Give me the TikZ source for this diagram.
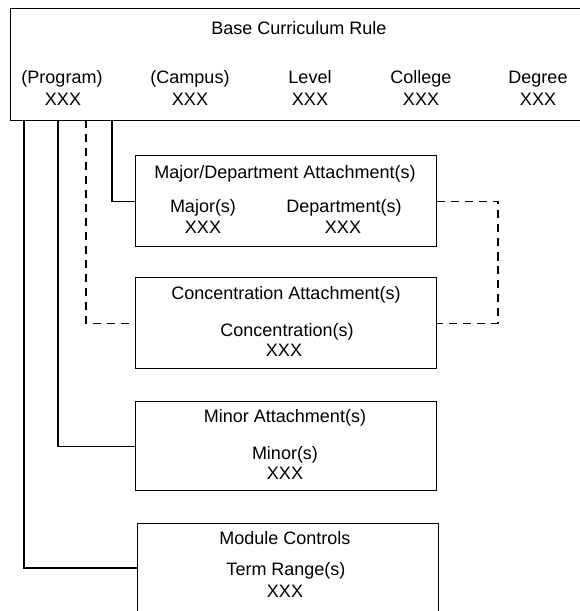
\documentclass[tikz,border=0pt]{standalone}
\usepackage{fontspec}
\setmainfont{Liberation Sans}
\begin{document}
\begin{tikzpicture}[x=1pt,y=-1pt,
  box/.style={draw, line width=1.3pt, inner sep=0pt, anchor=north west},
  lbl/.style={font=\fontsize{18}{21}\selectfont, inner sep=0pt, anchor=center,
              text height=13pt, text depth=0.5pt},
  link/.style={line width=1.3pt},
  dlink/.style={line width=1.3pt, dash pattern=on 8pt off 6pt}]
\useasboundingbox (0,0) rectangle (580,611);
\clip (0,0) rectangle (580,611);

% base rule box (runs past the right edge)
\node[box, minimum width=590pt, minimum height=112pt] (base) at (10,8) {};
\node[lbl] (basetitle) at (299,28) {Base Curriculum Rule};
\node[lbl] (prog)  at (62,77)  {(Program)};
\node[lbl] (progx) at (63,99)  {XXX};
\node[lbl] (camp)  at (190,77) {(Campus)};
\node[lbl] (campx) at (190,99) {XXX};
\node[lbl] (lev)   at (310,77) {Level};
\node[lbl] (levx)  at (310,99) {XXX};
\node[lbl] (coll)  at (421,77) {College};
\node[lbl] (collx) at (421,99) {XXX};
\node[lbl] (deg)   at (538,77) {Degree};
\node[lbl] (degx)  at (538,99) {XXX};

% attachment points on the base box
\coordinate (v1) at (24,120);
\coordinate (v2) at (58,120);
\coordinate (v3) at (86,120);
\coordinate (v4) at (112,120);

% major / department
\node[box, minimum width=301pt, minimum height=91pt] (major) at (135,155) {};
\node[lbl] (majtitle) at (285,172) {Major/Department Attachment(s)};
\node[lbl] (maj)  at (203,206) {Major(s)};
\node[lbl] (majx) at (203,227) {XXX};
\node[lbl] (dep)  at (344,206) {Department(s)};
\node[lbl] (depx) at (343,227) {XXX};

% concentration
\node[box, minimum width=301pt, minimum height=91pt] (conc) at (135,277) {};
\node[lbl] (conctitle) at (286,293) {Concentration Attachment(s)};
\node[lbl] (con)  at (287,330) {Concentration(s)};
\node[lbl] (conx) at (284,350) {XXX};

% minor
\node[box, minimum width=301pt, minimum height=89pt] (minor) at (135,401) {};
\node[lbl] (mintitle) at (285,416) {Minor Attachment(s)};
\node[lbl] (mino)  at (285,453) {Minor(s)};
\node[lbl] (minx)  at (285,473) {XXX};

% module controls (runs past the bottom edge)
\node[box, minimum width=301pt, minimum height=100pt] (module) at (137,523) {};
\node[lbl] (modtitle) at (285,538) {Module Controls};
\node[lbl] (term)  at (286,569) {Term Range(s)};
\node[lbl] (termx) at (285,591) {XXX};

% connectors
\draw[link] (v4) |- (major.west);
\draw[link] (v2) |- (minor.west);
\draw[link] (v1) |- ([yshift=-45pt]module.north west);
\coordinate (rj) at (498,260);
\draw[dlink] (v3) |- (conc.west);
\draw[dlink] (major.east) -| (rj) |- (conc.east);
\end{tikzpicture}
\end{document}
